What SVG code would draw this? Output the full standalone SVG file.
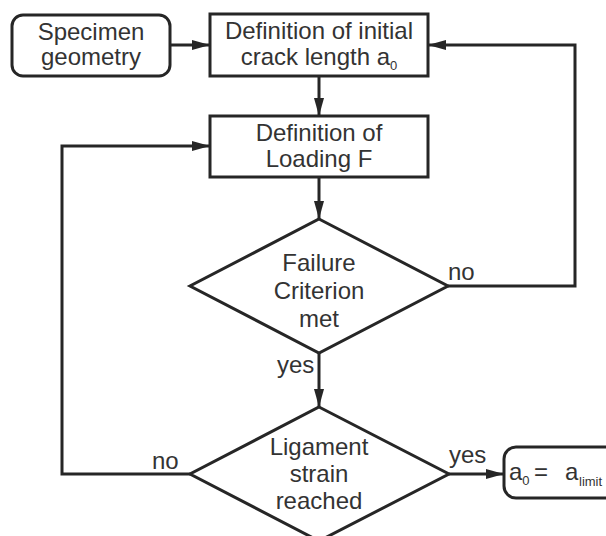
<svg xmlns="http://www.w3.org/2000/svg" width="606" height="536" viewBox="0 0 606 536">
<style>
.box{fill:#fff;stroke:#262626;stroke-width:3}
.ln{fill:none;stroke:#262626;stroke-width:3}
.t{font-family:"Liberation Sans",Arial,sans-serif;font-size:24px;fill:#333;text-anchor:middle}
.l{font-family:"Liberation Sans",Arial,sans-serif;font-size:24px;fill:#333}
.s{font-size:13px}
</style>
<defs>
<marker id="ah" markerUnits="userSpaceOnUse" markerWidth="18" markerHeight="10" refX="18" refY="5" orient="auto">
<path d="M0,0 L18,5 L0,10 z" fill="#262626"/>
</marker>
</defs>
<rect width="606" height="536" fill="#fff"/>
<g id="connectors">
<path class="ln" d="M170,45 L210,45" marker-end="url(#ah)"/>
<path class="ln" d="M319,76 L319,116" marker-end="url(#ah)"/>
<path class="ln" d="M319,177 L319,219" marker-end="url(#ah)"/>
<path class="ln" d="M448,286 L575,286 L575,45 L428,45" marker-end="url(#ah)"/>
<path class="ln" d="M319,353 L319,407" marker-end="url(#ah)"/>
<path class="ln" d="M190,474 L62,474 L62,146 L210,146" marker-end="url(#ah)"/>
<path class="ln" d="M449,474 L504,474" marker-end="url(#ah)"/>
<text class="l" x="448" y="280">no</text>
<text class="l" x="277" y="373">yes</text>
<text class="l" x="152" y="469">no</text>
<text class="l" x="449" y="463">yes</text>
</g>
<g id="specimen">
<rect class="box" x="12" y="15" width="158" height="61" rx="11"/>
<text class="t" x="91" y="40">Specimen</text>
<text class="t" x="91" y="65">geometry</text>
</g>
<g id="initial-crack">
<rect class="box" x="210" y="14" width="218" height="62"/>
<text class="t" x="319" y="39">Definition of initial</text>
<text class="t" x="319" y="65">crack length a<tspan class="s" dy="5">0</tspan></text>
</g>
<g id="loading">
<rect class="box" x="210" y="116" width="218" height="61"/>
<text class="t" x="319" y="141">Definition of</text>
<text class="t" x="319" y="167">Loading F</text>
</g>
<g id="failure">
<polygon class="box" points="319,219 448,286 319,353 190,286"/>
<text class="t" x="319" y="271">Failure</text>
<text class="t" x="319" y="299">Criterion</text>
<text class="t" x="319" y="327">met</text>
</g>
<g id="ligament">
<polygon class="box" points="319,407 449,474 319,541 190,474"/>
<text class="t" x="319" y="455">Ligament</text>
<text class="t" x="319" y="482">strain</text>
<text class="t" x="319" y="509">reached</text>
</g>
<g id="result">
<rect class="box" x="504" y="447" width="130" height="51" rx="12"/>
<text class="l" x="509" y="480">a<tspan class="s" dy="5">0</tspan><tspan x="534" dy="-5">=</tspan><tspan x="565">a</tspan><tspan class="s" x="579" dy="6">limit</tspan></text>
</g>
</svg>
